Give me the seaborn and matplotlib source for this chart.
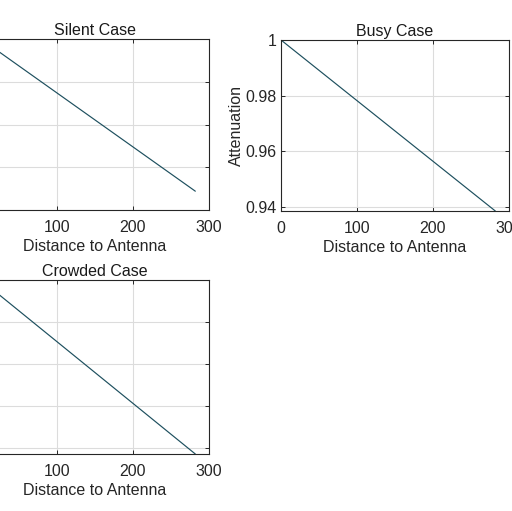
import numpy as np
import pandas as pd
import matplotlib
matplotlib.use("Agg")
import matplotlib.pyplot as plt
import seaborn as sns

# Values (straight lines from 1 at the antenna)
distance = [0, 282]
silent_att = [1.0, 0.9822]
busy_att = [1.0, 0.9386]
crowded_att = [1.0, 0.917]

titles = ["Silent Case", "Busy Case", "Crowded Case"]
ylims = [(0.98, 1.0), (0.9386, 1.0), (0.917, 1.0)]
yticks = [
    [0.98, 0.985, 0.99, 0.995, 1.0],
    [0.94, 0.96, 0.98, 1.0],
    [0.92, 0.94, 0.96, 0.98, 1.0],
]
xticks = [0, 100, 200, 300]

sns.set_theme(style="ticks")
plt.rcParams['font.family'] = ['Liberation Sans', 'DejaVu Sans']

LINE = "#1d4f5e"
FRAME = "#262626"

W, H = 512, 511
fig = plt.figure(figsize=(5.12, 5.11), dpi=100)
fig.patch.set_facecolor("white")

# axes boxes in pixels: left, top, right, bottom
boxes = [(-19, 39, 209, 210), (281, 40, 509, 211), (-19, 280, 209, 454)]
series = [silent_att, busy_att, crowded_att]


def fmt(v):
    return f"{v:g}"


for i, (box, att) in enumerate(zip(boxes, series)):
    l, t, r, b = box
    ax = fig.add_axes([l / W, 1 - b / H, (r - l) / W, (b - t) / H])
    df = pd.DataFrame({"Distance": distance, "Attenuation": att})
    sns.lineplot(data=df, x="Distance", y="Attenuation", ax=ax,
                 color=LINE, linewidth=0.85)
    ax.set_xlim(0, 300)
    ax.set_ylim(*ylims[i])
    ax.set_xticks(xticks)
    ax.set_xticklabels([fmt(v) for v in xticks])
    ax.set_yticks(yticks[i])
    ax.set_yticklabels([fmt(v) for v in yticks[i]])
    ax.grid(True, color="#dcdcdc", linewidth=0.8)
    ax.set_axisbelow(True)
    ax.tick_params(direction="in", top=True, right=True, length=3,
                   width=0.7, colors=FRAME, labelsize=11.5)
    ax.tick_params(axis="x", pad=7)
    ax.tick_params(axis="y", pad=3)
    for s in ax.spines.values():
        s.set_color(FRAME)
        s.set_linewidth(0.8)
    ax.set_title(titles[i], fontsize=11.5, color="#1a1a1a", pad=3)
    ax.set_xlabel("Distance to Antenna", fontsize=11.5, color="#262626", labelpad=3)
    ax.set_ylabel("Attenuation", fontsize=11.5, color="#262626", labelpad=1)

fig.savefig("out.png", dpi=100, facecolor="white")
